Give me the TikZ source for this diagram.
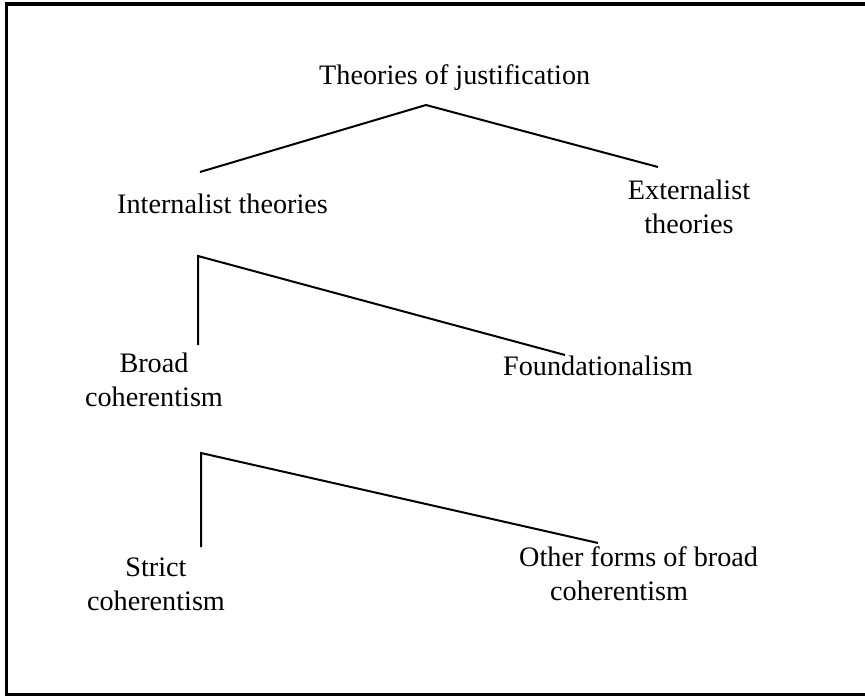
\documentclass[tikz,border=0pt]{standalone}
\usepackage{fontspec}
\setmainfont{Liberation Serif}
\begin{document}
\begin{tikzpicture}[x=1pt,y=-1pt,
  lbl/.style={inner sep=0pt, font=\fontsize{28.2}{34}\selectfont},
  conn/.style={line width=2pt, line join=miter}]
\useasboundingbox (0,0) rectangle (865,696);
\draw[line width=3.5pt] (880,4) -- (6.5,4) -- (6.5,694.5) -- (880,694.5);
\node[lbl, anchor=base west] (root) at (319,84) {Theories of justification};
\node[lbl, anchor=base west] (int) at (117,213) {Internalist theories};
\node[lbl, anchor=base, align=center] (ext) at (689,233) {Externalist\\theories};
\node[lbl, anchor=base, align=center] (broad) at (154,406) {Broad\\coherentism};
\node[lbl, anchor=base west] (found) at (503,375) {Foundationalism};
\node[lbl, anchor=base, align=center] (strict) at (156,610) {Strict\\coherentism};
\node[lbl, anchor=base west, align=left] (other) at (519,600) {Other forms of broad\\\hspace*{31pt}coherentism};
\coordinate (a1) at (426,105);
\coordinate (a1l) at (200,172);
\coordinate (a1r) at (658,167);
\coordinate (a2) at (198,256);
\coordinate (a2d) at (198,345);
\coordinate (a2r) at (565,355);
\coordinate (a3) at (201,453);
\coordinate (a3d) at (201,547);
\coordinate (a3r) at (598,543);
\draw[conn] (a1l) -- (a1) -- (a1r);
\draw[conn] (a2d) -- (a2) -- (a2r);
\draw[conn] (a3d) -- (a3) -- (a3r);
\end{tikzpicture}
\end{document}
